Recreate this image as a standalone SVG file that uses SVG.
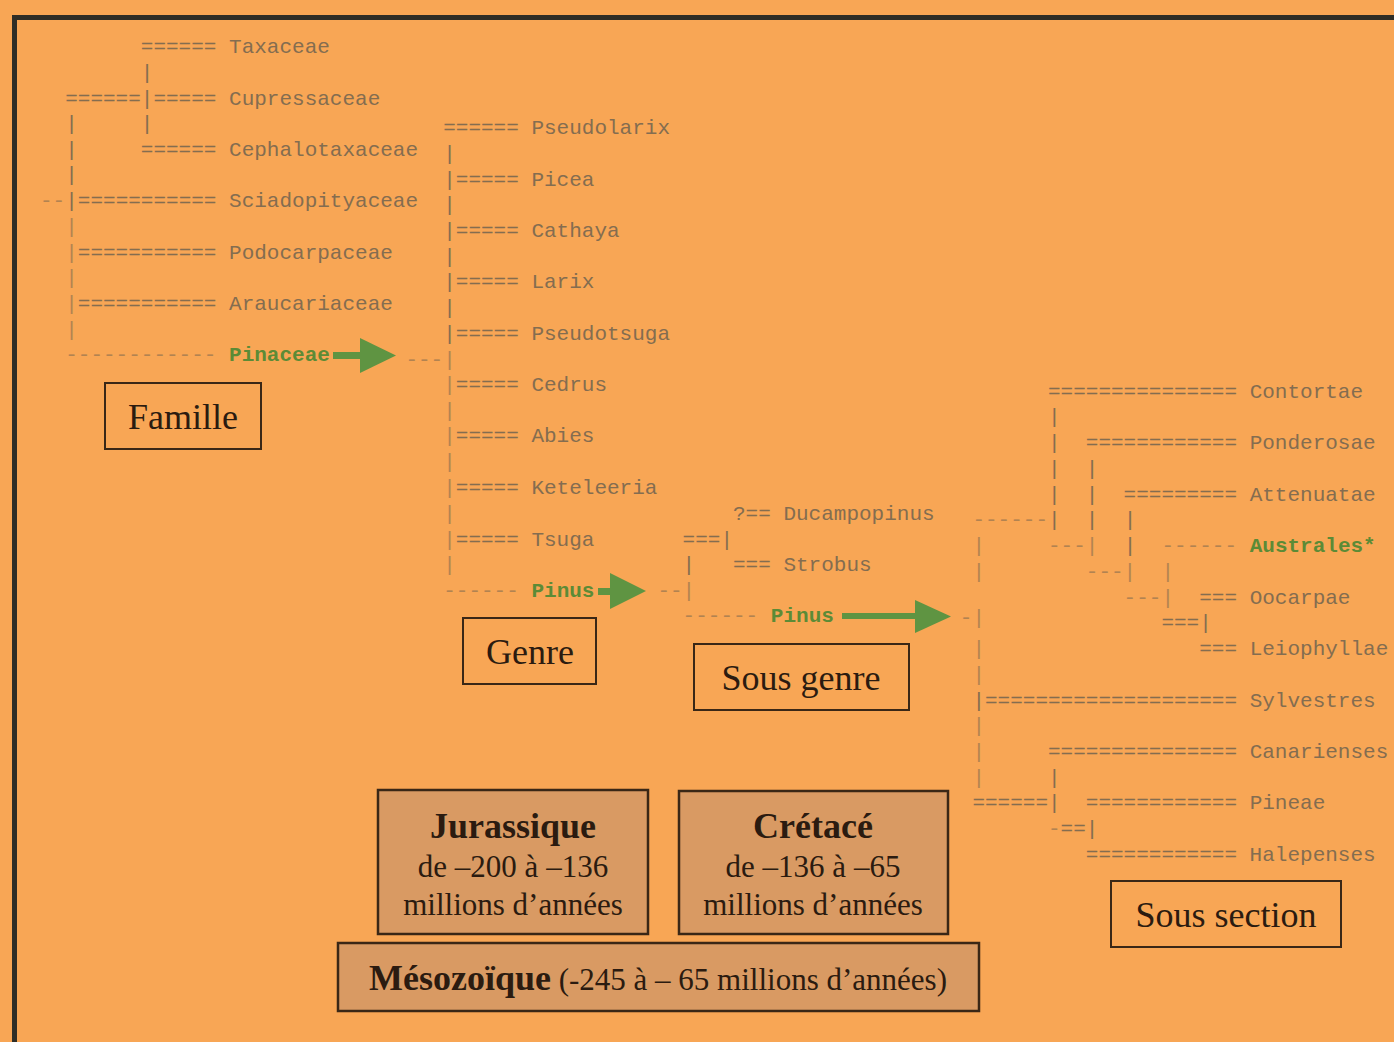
<svg xmlns="http://www.w3.org/2000/svg" width="1394" height="1042" viewBox="0 0 1394 1042" xml:space="preserve">
<style>
.bg{fill:#F8A655}
.frame{fill:#2F2D26}
.a{font-family:"Liberation Mono","Courier New",monospace;font-size:21px;fill:#846d50;white-space:pre}
.f{opacity:0.6}
.g{fill:#5C8B36;font-weight:bold}
.lbl{fill:none;stroke:#3a2716;stroke-width:2}
.per{fill:#D99A63;stroke:#3a2716;stroke-width:2.5}
.t{font-family:"Liberation Serif","Times New Roman",serif;fill:#2b1b10;text-anchor:middle}
.big{font-size:36px}
.sub{font-size:31px}
.b{font-weight:bold}
.arr{fill:#5F9442}
</style>
<rect class="bg" x="0" y="0" width="1394" height="1042"/>
<rect class="frame" x="12" y="15" width="1382" height="5"/>
<rect class="frame" x="12" y="15" width="5" height="1027"/>

<g id="famille-tree">
<text class="a" x="40" y="53">        ====== Taxaceae</text>
<text class="a" x="40" y="79">        |</text>
<text class="a" x="40" y="105">  ======|===== Cupressaceae</text>
<text class="a" x="40" y="130">  |     |</text>
<text class="a" x="40" y="156">  |     ====== Cephalotaxaceae</text>
<text class="a" x="40" y="181">  |</text>
<text class="a" x="40" y="207"><tspan class="f">--</tspan>|=========== Sciadopityaceae</text>
<text class="a f" x="40" y="233">  |</text>
<text class="a" x="40" y="259"><tspan class="f">  |</tspan>=========== Podocarpaceae</text>
<text class="a f" x="40" y="284">  |</text>
<text class="a" x="40" y="310"><tspan class="f">  |</tspan>=========== Araucariaceae</text>
<text class="a f" x="40" y="336">  |</text>
<text class="a" x="40" y="361"><tspan class="f">  ------------</tspan> <tspan class="g">Pinaceae</tspan></text>
</g>

<g id="genre-tree">
<text class="a" x="443.2" y="134">====== Pseudolarix</text>
<text class="a" x="443.2" y="160">|</text>
<text class="a" x="443.2" y="186">|===== Picea</text>
<text class="a" x="443.2" y="211">|</text>
<text class="a" x="443.2" y="237">|===== Cathaya</text>
<text class="a" x="443.2" y="263">|</text>
<text class="a" x="443.2" y="288">|===== Larix</text>
<text class="a" x="443.2" y="314">|</text>
<text class="a" x="443.2" y="340">|===== Pseudotsuga</text>
<text class="a f" x="405.4" y="366">---|</text>
<text class="a" x="443.2" y="391"><tspan class="f">|</tspan>===== Cedrus</text>
<text class="a f" x="443.2" y="417">|</text>
<text class="a" x="443.2" y="442"><tspan class="f">|</tspan>===== Abies</text>
<text class="a f" x="443.2" y="468">|</text>
<text class="a" x="443.2" y="494"><tspan class="f">|</tspan>===== Keteleeria</text>
<text class="a f" x="443.2" y="520">|</text>
<text class="a" x="443.2" y="546"><tspan class="f">|</tspan>===== Tsuga</text>
<text class="a f" x="443.2" y="571">|</text>
<text class="a" x="443.2" y="597"><tspan class="f">------</tspan> <tspan class="g">Pinus</tspan></text>
</g>

<g id="sousgenre-tree">
<text class="a" x="733" y="520">?== Ducampopinus</text>
<text class="a" x="682.6" y="546">===|</text>
<text class="a" x="682.6" y="571">|   === Strobus</text>
<text class="a f" x="657.4" y="597">--|</text>
<text class="a" x="682.6" y="622"><tspan class="f">------</tspan> <tspan class="g">Pinus</tspan></text>
<text class="a f" x="959.8" y="624">-|</text>
</g>

<g id="section-tree">
<text class="a" x="1048" y="398">=============== Contortae</text>
<text class="a" x="1048" y="423">|</text>
<text class="a" x="1048" y="449">|  ============ Ponderosae</text>
<text class="a" x="1048" y="475">|  |</text>
<text class="a" x="1048" y="501">|  |  ========= Attenuatae</text>
<text class="a" x="972.4" y="526"><tspan class="f">------</tspan>|  |  |</text>
<text class="a" x="972.4" y="552"><tspan class="f">|     ---|</tspan>  |  <tspan class="f">------</tspan> <tspan class="g">Australes*</tspan></text>
<text class="a f" x="972.4" y="578">|        ---|  |</text>
<text class="a" x="1123.6" y="604"><tspan class="f">---|</tspan>  === Oocarpae</text>
<text class="a" x="1161.4" y="629">===|</text>
<text class="a" x="972.4" y="655"><tspan class="f">|</tspan>                 === Leiophyllae</text>
<text class="a f" x="972.4" y="681">|</text>
<text class="a" x="972.4" y="707">|==================== Sylvestres</text>
<text class="a f" x="972.4" y="732">|</text>
<text class="a" x="972.4" y="758"><tspan class="f">|</tspan>     =============== Canarienses</text>
<text class="a" x="972.4" y="784"><tspan class="f">|</tspan>     |</text>
<text class="a" x="972.4" y="809">======|  ============ Pineae</text>
<text class="a" x="1048" y="835"><tspan class="f">-</tspan>==|</text>
<text class="a" x="1085.8" y="861">============ Halepenses</text>
</g>

<g id="connectors">
<rect class="arr" x="333" y="352" width="30" height="7"/>
<polygon class="arr" points="360,338 396,355.5 360,373"/>
<rect class="arr" x="598" y="588" width="15" height="7"/>
<polygon class="arr" points="610,573 646,591 610,609"/>
<rect class="arr" x="842" y="613" width="76" height="6"/>
<polygon class="arr" points="915,600 951,616.5 915,633"/>
</g>

<g id="famille">
<rect class="lbl" x="105" y="383" width="156" height="66"/>
<text class="t big" x="183" y="429">Famille</text>
</g>
<g id="genre">
<rect class="lbl" x="463" y="618" width="133" height="66"/>
<text class="t big" x="530" y="664">Genre</text>
</g>
<g id="sous-genre">
<rect class="lbl" x="694" y="644" width="215" height="66"/>
<text class="t big" x="801" y="690">Sous genre</text>
</g>
<g id="sous-section">
<rect class="lbl" x="1111" y="881" width="230" height="66"/>
<text class="t big" x="1226" y="927">Sous section</text>
</g>
<g id="jurassique">
<rect class="per" x="378" y="790" width="270" height="144"/>
<text class="t big b" x="513" y="838">Jurassique</text>
<text class="t sub" x="513" y="877">de –200 à –136</text>
<text class="t sub" x="513" y="915">millions d’années</text>
</g>
<g id="cretace">
<rect class="per" x="679" y="791" width="269" height="143"/>
<text class="t big b" x="813" y="838">Crétacé</text>
<text class="t sub" x="813" y="877">de –136 à –65</text>
<text class="t sub" x="813" y="915">millions d’années</text>
</g>
<g id="mesozoique">
<rect class="per" x="338" y="943" width="641" height="68"/>
<text class="t sub" x="658" y="990"><tspan class="big b">Mésozoïque</tspan> (-245 à – 65 millions d’années)</text>
</g>
</svg>
